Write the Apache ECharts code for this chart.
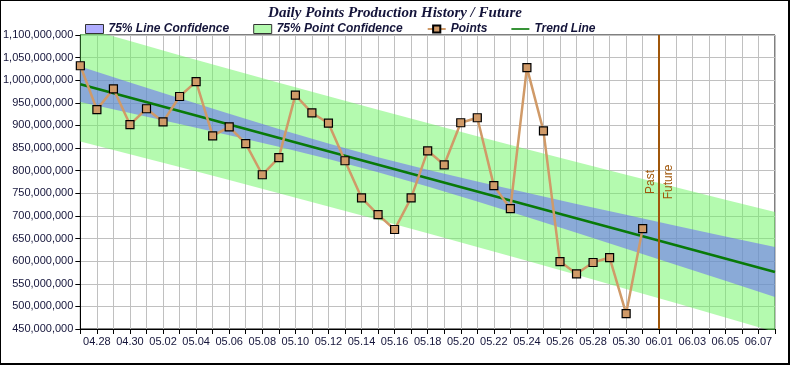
<!DOCTYPE html>
<html>
<head>
<meta charset="utf-8">
<script src="https://cdn.jsdelivr.net/npm/echarts@6/dist/echarts.min.js"></script>
<style>
html,body{margin:0;padding:0;background:#fff;}
#wrap{position:relative;width:790px;height:365px;}
#chart{position:absolute;left:0;top:0;width:790px;height:365px;}
#frame{position:absolute;left:0;top:0;width:790px;height:365px;box-sizing:border-box;border-top:1px solid #000;border-left:1px solid #000;border-right:2px solid #000;border-bottom:2px solid #000;pointer-events:none;}
</style>
</head>
<body>
<div id="wrap"><div id="chart"></div><div id="frame"></div></div>
<script>
// Daily categories
const categories = ['04.27','04.28','04.29','04.30','05.01','05.02','05.03','05.04','05.05','05.06','05.07','05.08','05.09','05.10','05.11','05.12','05.13','05.14','05.15','05.16','05.17','05.18','05.19','05.20','05.21','05.22','05.23','05.24','05.25','05.26','05.27','05.28','05.29','05.30','05.31','06.01','06.02','06.03','06.04','06.05','06.06','06.07','06.08'];
// Daily points (millions), 04.27 .. 05.31
const points = [1032, 935, 981, 902, 937, 908, 964, 997, 877, 897, 860, 791, 829, 967, 928, 905, 822, 740, 703, 670, 740, 844, 813, 906, 917, 767, 716, 1028, 888, 599, 572, 597, 608, 484, 672];
// Trend line end points (millions)
const trendDates = ['04.27', '06.08'];
const trendValues = [991, 576];
// Confidence bands sampled every 3 days (millions)
const bandDates = ['04.27','04.30','05.03','05.06','05.09','05.12','05.15','05.18','05.21','05.24','05.27','05.30','06.02','06.05','06.08'];
const lineConfUpper = [1030.4, 995.2, 960.2, 925.7, 892.0, 859.9, 829.8, 802.1, 776.1, 751.0, 726.6, 702.4, 678.5, 654.7, 631.1];
const lineConfLower = [951.6, 927.6, 903.2, 878.5, 852.8, 825.7, 796.4, 764.9, 731.7, 697.4, 662.6, 627.4, 592.1, 556.5, 520.9];
const pointConfUpper = [1117.7, 1086.5, 1055.5, 1024.9, 994.5, 964.5, 934.7, 905.4, 876.4, 847.6, 819.2, 791.1, 763.3, 735.7, 708.5];
const pointConfLower = [864.3, 836.3, 807.9, 779.3, 750.3, 721.1, 691.5, 661.6, 631.4, 600.8, 570.0, 538.7, 507.3, 475.5, 443.5];
// Y ticks (millions)
const yMin = 450, yMax = 1100, yStep = 50;
const pastFutureDate = '06.01';

const blueFill = 'rgba(98,92,255,0.5)';
const greenFill = 'rgba(105,245,95,0.5)';
const pointColor = '#d09a68';
const trendColor = '#087a08';
const pfColor = '#a0570b';
const textColor = '#14143a';

const chart = echarts.init(document.getElementById('chart'), null, {renderer: 'canvas'});

const pairs = (dates, vals) => dates.map((d, i) => [d, vals[i]]);
const diffs = (up, lo) => up.map((v, i) => +(v - lo[i]).toFixed(2));
const lineIcon = 'path://M0,0 M0,3.6 H20 V5.4 H0 Z M20,9';

chart.setOption({
  animation: false,
  title: {
    text: 'Daily Points Production History / Future',
    left: 'center',
    top: 1,
    textStyle: {fontFamily: '"Liberation Serif","Times New Roman",serif', fontStyle: 'italic', fontWeight: 'bold', fontSize: 15, color: textColor}
  },
  legend: {
    left: 80,
    top: 18,
    itemWidth: 18,
    itemHeight: 9,
    itemGap: 24,
    textStyle: {fontFamily: 'Arial, "Liberation Sans", sans-serif', fontStyle: 'italic', fontWeight: 'bold', fontSize: 12, color: textColor},
    data: [
      {name: '75% Line Confidence', icon: 'rect', itemStyle: {color: blueFill, borderColor: '#333', borderWidth: 1}},
      {name: '75% Point Confidence', icon: 'rect', itemStyle: {color: greenFill, borderColor: '#333', borderWidth: 1}},
      {name: 'Points'},
      {name: 'Trend Line', icon: lineIcon, itemStyle: {color: trendColor, borderWidth: 0}}
    ]
  },
  grid: {left: 80, right: 15, top: 35, bottom: 36, show: true, borderColor: '#000', borderWidth: 1, backgroundColor: 'transparent'},
  xAxis: {
    type: 'category',
    data: categories,
    boundaryGap: false,
    axisLine: {lineStyle: {color: '#000', width: 1}},
    axisTick: {show: true, interval: 0, length: 5, lineStyle: {color: '#000'}},
    axisLabel: {interval: (idx) => idx % 2 === 1, margin: 7, fontFamily: 'Arial, "Liberation Sans", sans-serif', fontSize: 11, color: textColor},
    splitLine: {show: true, interval: 0, lineStyle: {color: '#c0c0c0', width: 1}}
  },
  yAxis: {
    type: 'value',
    min: yMin, max: yMax, interval: yStep,
    axisLine: {show: true, lineStyle: {color: '#000', width: 1}},
    axisTick: {show: true, length: 5, lineStyle: {color: '#000'}},
    axisLabel: {margin: 7, fontFamily: 'Arial, "Liberation Sans", sans-serif', fontSize: 11, color: textColor,
      formatter: (v) => Math.round(v * 1e6).toLocaleString('en-US')},
    splitLine: {show: true, lineStyle: {color: '#c0c0c0', width: 1}}
  },
  series: [
    {name: 'pcBase', type: 'line', stack: 'pc', data: pairs(bandDates, pointConfLower), symbol: 'none', lineStyle: {opacity: 0}, silent: true},
    {name: '75% Point Confidence', type: 'line', stack: 'pc', data: pairs(bandDates, diffs(pointConfUpper, pointConfLower)), symbol: 'none', lineStyle: {opacity: 0}, itemStyle: {color: greenFill}, areaStyle: {color: greenFill, opacity: 1}, silent: true},
    {name: 'lcBase', type: 'line', stack: 'lc', data: pairs(bandDates, lineConfLower), symbol: 'none', lineStyle: {opacity: 0}, silent: true},
    {name: '75% Line Confidence', type: 'line', stack: 'lc', data: pairs(bandDates, diffs(lineConfUpper, lineConfLower)), symbol: 'none', lineStyle: {opacity: 0}, itemStyle: {color: blueFill}, areaStyle: {color: blueFill, opacity: 1}, silent: true},
    {name: 'Trend Line', type: 'line', data: pairs(trendDates, trendValues), symbol: 'none', itemStyle: {color: trendColor}, lineStyle: {color: trendColor, width: 2.5},
      markLine: {
        silent: true, symbol: 'none',
        lineStyle: {color: pfColor, width: 2, type: 'solid'},
        data: [
          {xAxis: pastFutureDate, label: {show: true, formatter: 'Past', position: 'insideMiddleTop', color: pfColor, fontFamily: 'Arial, "Liberation Sans", sans-serif', fontSize: 12, distance: 3}},
          {xAxis: pastFutureDate, label: {show: true, formatter: 'Future', position: 'insideMiddleBottom', color: pfColor, fontFamily: 'Arial, "Liberation Sans", sans-serif', fontSize: 12, distance: 3}}
        ]
      }
    },
    {name: 'Points', type: 'line', data: points, symbol: 'rect', symbolSize: 8, showAllSymbol: true,
      lineStyle: {color: pointColor, width: 2.5},
      itemStyle: {color: pointColor, borderColor: '#000', borderWidth: 1.2}}
  ]
});
</script>
</body>
</html>
